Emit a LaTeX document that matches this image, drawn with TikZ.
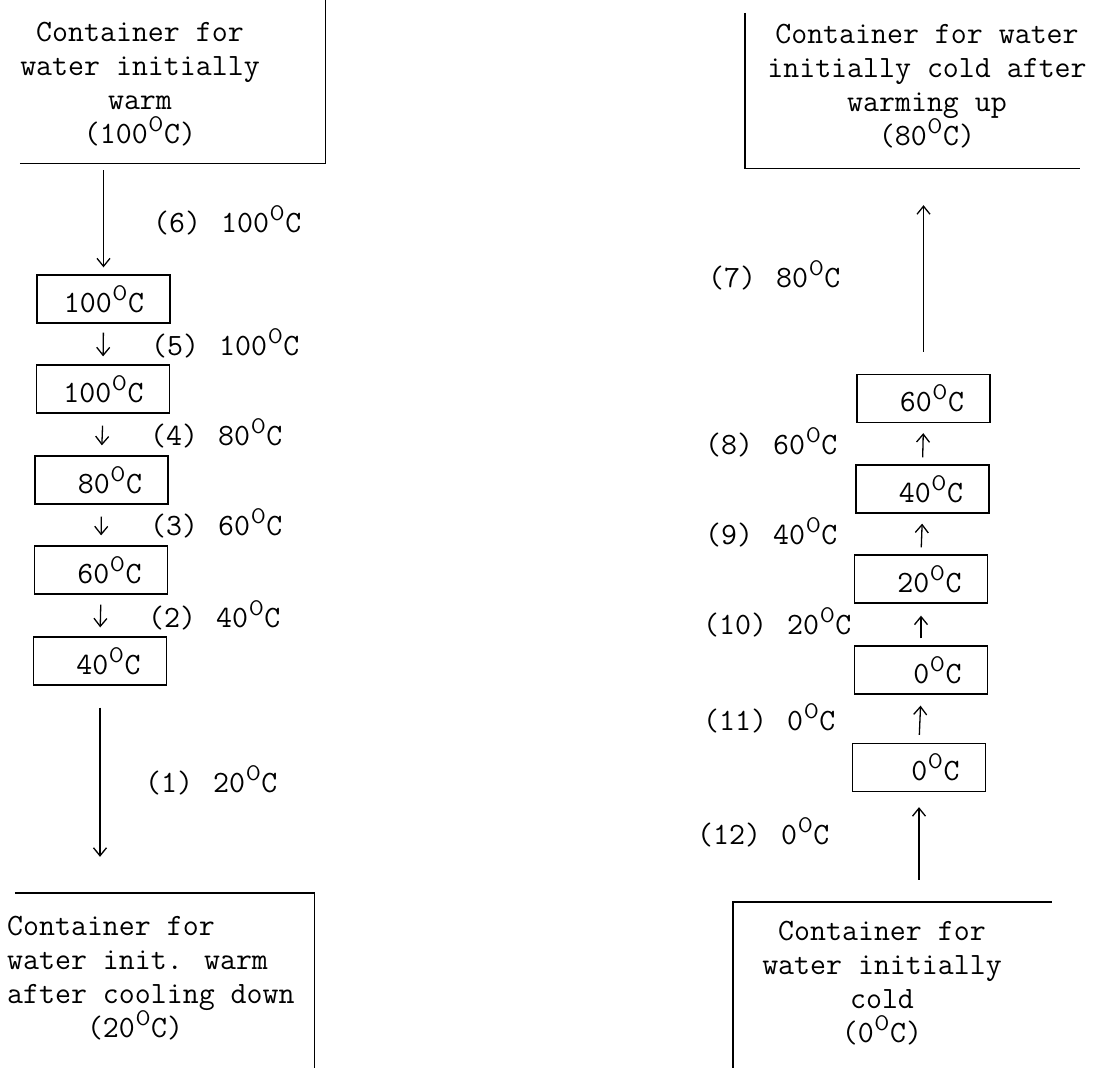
\documentclass[tikz,border=0pt]{standalone}
\usetikzlibrary{arrows.meta}
\newcommand\dC{\makebox[0.525em]{\raisebox{0.38em}{\sffamily\fontsize{21}{21}\selectfont O}}C}
\newcommand\gap{\hspace{0.65em}}
\begin{document}
\begin{tikzpicture}[x=1pt,y=-1pt,
  every node/.style={font=\ttfamily\fontsize{31}{34}\selectfont, inner sep=0pt},
  frame/.style={line width=1.4pt},
  stepbox/.style={draw, line width=1.3pt, inner xsep=26pt, text width=81pt, align=right, minimum height=48pt},
  arr/.style={line width=1.3pt, -{Straight Barb[length=8pt,width=13pt,line width=1.3pt]}},
  lab/.style={anchor=west}
]
\useasboundingbox (0,0) rectangle (1114,1068);

% ---- containers (frames as empty named nodes) ----
\node[minimum width=305pt, minimum height=163pt] (TL) at (172.5,81.5) {};
\draw[frame] (TL.south west) -- (TL.south east) -- (TL.north east);
\node[align=center] (TLt) at (140,84) {Container for\\water initially\\warm\\(100\dC)};

\node[minimum width=335pt, minimum height=155pt] (TR) at (912.5,90.5) {};
\draw[frame] (TR.north west) -- (TR.south west) -- (TR.south east);
\node[align=center] (TRt) at (927,86) {Container for water\\initially cold after\\warming up\\(80\dC)};

\node[minimum width=299pt, minimum height=175pt] (BL) at (164.5,980.5) {};
\draw[frame] (BL.north west) -- (BL.north east) -- (BL.south east);
\node[align=left, anchor=west] (BLt) at (7,978) {Container for\\water init. warm\\after cooling down\\\phantom{xxxxx}(20\dC)};

\node[minimum width=319pt, minimum height=166pt] (BR) at (892.5,985) {};
\draw[frame] (BR.south west) -- (BR.north west) -- (BR.north east);
\node[align=center] (BRt) at (882,983) {Container for\\water initially\\cold\\(0\dC)};

% ---- left column boxes ----
\node[stepbox] (L1) at (103.5,299) {100\dC};
\node[stepbox] (L2) at (103,389) {100\dC};
\node[stepbox] (L3) at (101.5,480) {80\dC};
\node[stepbox] (L4) at (101,570) {60\dC};
\node[stepbox] (L5) at (100,661) {40\dC};

\draw[arr, shorten <=7pt, shorten >=7pt] (L1.north |- TL.south) -- (L1.north);
\draw[arr, shorten <=9pt, shorten >=8pt] (L1.south) -- (L2.north);
\draw[arr, shorten <=12pt, shorten >=10pt] (L2.south) -- (L3.north);
\draw[arr, shorten <=12pt, shorten >=10pt] (L3.south) -- (L4.north);
\draw[arr, shorten <=10pt, shorten >=9pt] (L4.south) -- (L5.north);
\draw[arr, shorten <=22pt, shorten >=36pt] (L5.south) -- (L5.south |- BL.north);

\node[lab] (l6) at (153,220) {(6)\gap 100\dC};
\node[lab] (l5) at (151,343) {(5)\gap 100\dC};
\node[lab] (l4) at (150,433) {(4)\gap 80\dC};
\node[lab] (l3) at (150,523) {(3)\gap 60\dC};
\node[lab] (l2) at (148,615) {(2)\gap 40\dC};
\node[lab] (l1) at (145,780) {(1)\gap 20\dC};

% ---- right column boxes ----
\node[stepbox] (R1) at (923.5,398.5) {60\dC};
\node[stepbox] (R2) at (922.5,489) {40\dC};
\node[stepbox] (R3) at (921,579) {20\dC};
\node[stepbox] (R4) at (921,670) {0\dC};
\node[stepbox] (R5) at (919,767.5) {0\dC};

\draw[arr, shorten <=22pt, shorten >=37pt] (R1.north) -- (R1.north |- TR.south);
\draw[arr, shorten <=7pt, shorten >=10pt] (R2.north) -- (R1.south);
\draw[arr, shorten <=7pt, shorten >=10pt] (R3.north) -- (R2.south);
\draw[arr, shorten <=7pt, shorten >=12pt] (R4.north) -- (R3.south);
\draw[arr, shorten <=8pt, shorten >=11pt] (R5.north) -- (R4.south);
\draw[arr, shorten <=22pt, shorten >=15pt] (R5.south |- BR.north) -- (R5.south);

\node[lab] (r7) at (708,275) {(7)\gap 80\dC};
\node[lab] (r8) at (705,442) {(8)\gap 60\dC};
\node[lab] (r9) at (705,532) {(9)\gap 40\dC};
\node[lab] (r10) at (703,622) {(10)\gap 20\dC};
\node[lab] (r11) at (703,718) {(11)\gap 0\dC};
\node[lab] (r12) at (697,832) {(12)\gap 0\dC};
\end{tikzpicture}
\end{document}
